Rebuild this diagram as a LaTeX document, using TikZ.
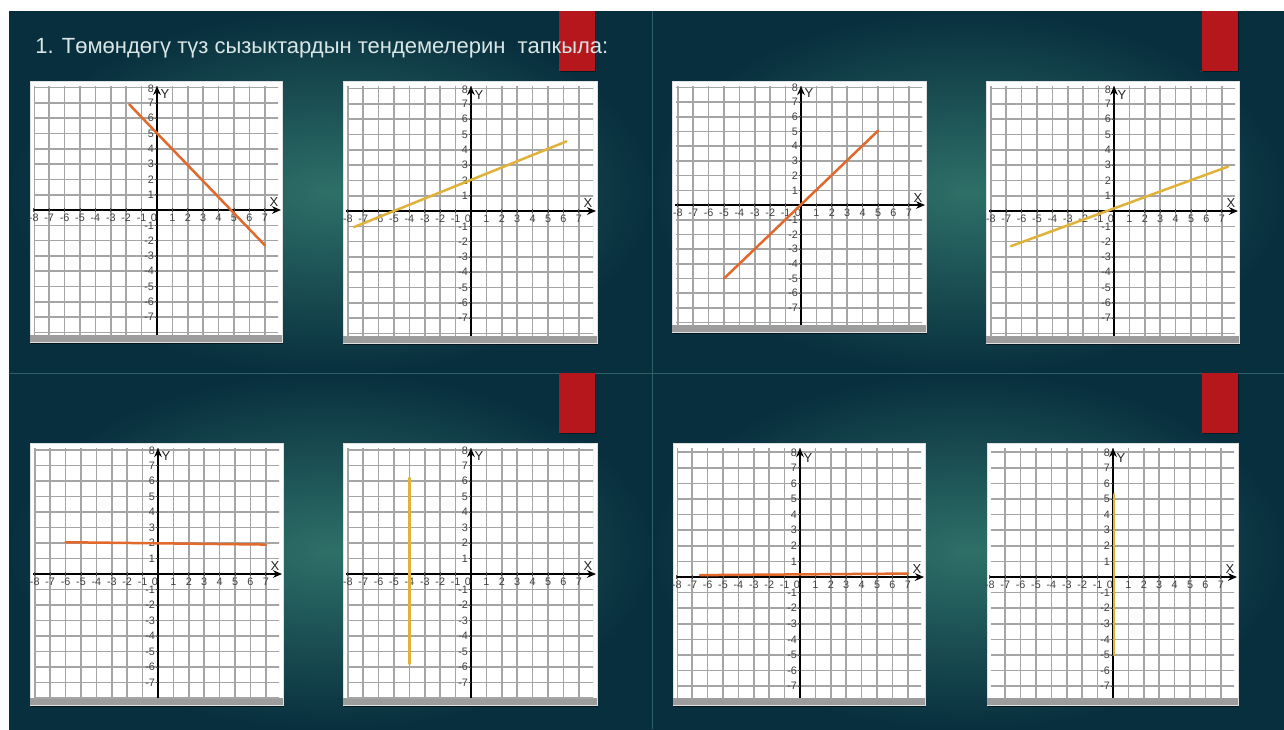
\documentclass[tikz,border=0pt]{standalone}
\usepackage{fontspec}
\setmainfont{Liberation Sans}
\usetikzlibrary{arrows.meta}
\definecolor{bgdark}{HTML}{082F3E}
\definecolor{bglight}{HTML}{2E7068}
\definecolor{sepline}{HTML}{2F6068}
\definecolor{tabred}{HTML}{B5171C}
\definecolor{gridgray}{HTML}{A5A5A5}
\definecolor{barcol}{HTML}{9C9C9C}
\definecolor{lineorange}{HTML}{E2692C}
\definecolor{lineyellow}{HTML}{E0B23A}
\definecolor{titlecol}{HTML}{D9E6E6}
\definecolor{ticklab}{HTML}{404040}
\tikzset{
  gridline/.style={draw=gridgray, line width=0.8pt},
  axisline/.style={draw=black, line width=0.95pt},
  axisarrow/.style={axisline, -{Stealth[length=4.5pt,width=3.8pt]}},
  tickmark/.style={draw=black!70, line width=0.4pt},
  ticklabel/.style={text=ticklab, font=\fontsize{5.4}{5.5}\selectfont, inner sep=0pt},
  axislabel/.style={text=black!85, font=\fontsize{6.5}{6.5}\selectfont, inner sep=0pt},
  graphline/.style={line width=1.25pt, line cap=round},
  tabbox/.style={fill=tabred},
  graphframe/.style n args={3}{shift={(#1,#2)}, x=7.7pt, y=#3pt},
}
% #1 name, #2 L, #3 T, #4 R, #5 B, #6 ox, #7 oy, #8 y unit (pt)
\newcommand\graphpanel[8]{%
  \fill[black, opacity=0.55] (#2+1,#5) rectangle (#4+1,#5+2);
  \fill[white] (#2,#3) rectangle (#4,#5);
  \draw[black!12, line width=0.5pt] (#2,#3) rectangle (#4,#5);
  \fill[barcol] (#2,#5-7) rectangle (#4,#5);
  \begin{scope}
    \clip (#2+4,#3+5) rectangle (#4-4,#5-7);
    \begin{scope}[graphframe={#6}{#7}{#8}]
      \foreach \i in {-10,...,10} {
        \draw[gridline] (\i,-11) -- (\i,11);
        \draw[gridline] (-11,\i) -- (11,\i);
      }
    \end{scope}
  \end{scope}
  \coordinate (#1xl) at (#2+3,#7);
  \coordinate (#1xr) at (#4-1,#7);
  \coordinate (#1yb) at (#6,#5-7);
  \coordinate (#1yt) at (#6,#3+5);
  \draw[axisarrow] (#1xl) -- (#1xr);
  \draw[axisarrow] (#1yb) -- (#1yt);
  \begin{scope}[graphframe={#6}{#7}{#8}]
    \foreach \i [count=\k] in {-8,-7,-6,-5,-4,-3,-2,-1,1,2,3,4,5,6,7} {
      \draw[tickmark] (\i,0.12) -- (\i,-0.12);
      \node[ticklabel] (#1xt\k) at (\i,-0.5) {\i};
    }
    \foreach \i [count=\k] in {-7,-6,-5,-4,-3,-2,-1,1,2,3,4,5,6,7} {
      \draw[tickmark] (-0.15,\i) -- (0,\i);
      \node[ticklabel, anchor=east] (#1yt\k) at (-0.17,\i) {\i};
    }
    \node[ticklabel, anchor=east] (#1ytop) at (-0.17,7.95) {8};
    \node[ticklabel] (#1zero) at (-0.2,-0.5) {0};
    \node[axislabel] (#1X) at (7.6,0.5) {X};
    \node[axislabel] (#1Y) at (0.52,7.6) {Y};
  \end{scope}
}
\begin{document}
\begin{tikzpicture}[x=0.5pt,y=-0.5pt]
\useasboundingbox (0,0) rectangle (1284,729);
\fill[white] (0,0) rectangle (1284,729);
% slide backgrounds
\shade[inner color=bglight, outer color=bgdark] (9,11) rectangle (652,373);
\shade[inner color=bglight, outer color=bgdark] (652,11) rectangle (1284,373);
\shade[inner color=bglight, outer color=bgdark] (9,373) rectangle (652,729);
\shade[inner color=bglight, outer color=bgdark] (652,373) rectangle (1284,729);
\draw[sepline, line width=0.5pt] (652,11) -- (652,729);
\draw[sepline, line width=0.5pt] (9,373) -- (1284,373);
% red tabs
\fill[black, opacity=0.4] (560,12) rectangle (596,72);
\fill[tabbox] (559,11) rectangle (595,71);
\fill[black, opacity=0.4] (1203,12) rectangle (1239,72);
\fill[tabbox] (1202,11) rectangle (1238,71);
\fill[black, opacity=0.4] (560,374) rectangle (596,434);
\fill[tabbox] (559,373) rectangle (595,433);
\fill[black, opacity=0.4] (1203,374) rectangle (1239,434);
\fill[tabbox] (1202,373) rectangle (1238,433);
% title
\node[anchor=base west, text=titlecol, font=\fontsize{11}{12}\selectfont, inner sep=0pt] (title) at (35,53) {1. Төмөндөгү түз сызыктардын тендемелерин\ \ тапкыла:};
% graphs
\graphpanel{ga}{30}{81}{282}{342}{157}{210}{7.65}
\begin{scope}[graphframe={157}{210}{7.65}]
  \draw[graphline, lineorange] (-1.8,6.9) -- (7,-2.3);
\end{scope}
\graphpanel{gb}{343}{81}{597}{343}{471}{211}{7.65}
\begin{scope}[graphframe={471}{211}{7.65}]
  \draw[graphline, lineyellow] (-7.6,-1.05) -- (6.2,4.55);
\end{scope}
\graphpanel{gc}{672}{81}{926}{332}{801}{205}{7.35}
\begin{scope}[graphframe={801}{205}{7.35}]
  \draw[graphline, lineorange] (-5,-5) -- (5,5.05);
\end{scope}
\graphpanel{gd}{986}{81}{1239}{343}{1114}{211}{7.65}
\begin{scope}[graphframe={1114}{211}{7.65}]
  \draw[graphline, lineyellow] (-6.7,-2.3) -- (7.4,2.9);
\end{scope}
\graphpanel{ge}{30}{443}{283}{705}{158}{574}{7.75}
\begin{scope}[graphframe={158}{574}{7.75}]
  \draw[graphline, lineorange] (-6,2.05) -- (7,1.9);
\end{scope}
\graphpanel{gf}{343}{443}{597}{705}{471}{574}{7.75}
\begin{scope}[graphframe={471}{574}{7.75}]
  \draw[graphline, lineyellow] (-4,6.2) -- (-4,-5.8);
\end{scope}
\graphpanel{gg}{673}{443}{925}{705}{800}{577}{7.8}
\begin{scope}[graphframe={800}{577}{7.8}]
  \draw[graphline, lineorange] (-6.5,0.12) -- (7,0.22);
\end{scope}
\graphpanel{gh}{987}{443}{1238}{705}{1113}{577}{7.8}
\begin{scope}[graphframe={1113}{577}{7.8}]
  \draw[graphline, lineyellow] (0.08,5.3) -- (0.08,-5);
\end{scope}
\end{tikzpicture}
\end{document}
